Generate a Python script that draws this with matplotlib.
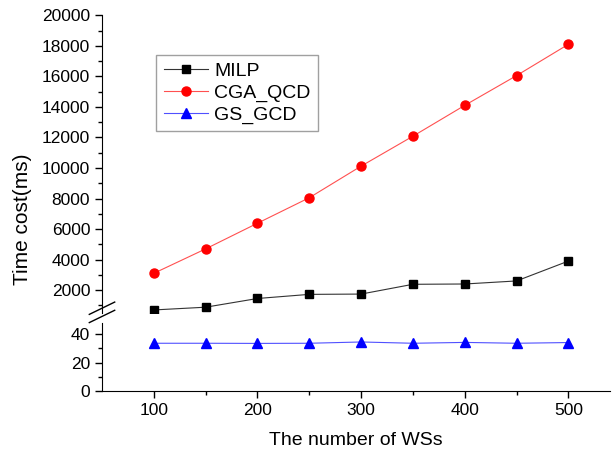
import numpy as np
import matplotlib.pyplot as plt

plt.rcParams["font.family"] = ["Liberation Sans", "DejaVu Sans"]

ws = [100, 150, 200, 250, 300, 350, 400, 450, 500]
milp = [700, 880, 1450, 1720, 1740, 2380, 2400, 2600, 3900]
cga_qcd = [3100, 4700, 6380, 8050, 10120, 12080, 14100, 16050, 18100]
gs_gcd = [33.5, 33.5, 33.4, 33.5, 34.4, 33.5, 34.1, 33.5, 34.0]

fig = plt.figure(figsize=(6.13, 4.57), dpi=100)
ax_top = fig.add_axes([0.1664, 0.3151, 0.8284, 0.6514])
ax_bot = fig.add_axes([0.1664, 0.1444, 0.8284, 0.1497])

for ax in (ax_top, ax_bot):
    ax.plot(ws, milp, color="#333333", lw=0.8, marker="s", ms=5.5,
            mfc="black", mec="black", label="MILP")
    ax.plot(ws, cga_qcd, color="#ff5050", lw=0.8, marker="o", ms=6.5,
            mfc="red", mec="red", label="CGA_QCD")
    ax.plot(ws, gs_gcd, color="#5050ff", lw=0.8, marker="^", ms=6.5,
            mfc="blue", mec="blue", label="GS_GCD")
    ax.set_xlim(50, 540)
    ax.spines["top"].set_visible(False)
    ax.spines["right"].set_visible(False)
    ax.tick_params(direction="out", labelsize=12.5, width=1, length=5)
    ax.tick_params(which="minor", direction="out", width=1, length=3)

ax_top.set_ylim(500, 20000)
ax_top.set_yticks(np.arange(2000, 20001, 2000))
ax_top.set_yticks(np.arange(1000, 20001, 1000), minor=True)
ax_top.spines["bottom"].set_visible(False)
ax_top.tick_params(axis="x", which="both", bottom=False, labelbottom=False)

ax_bot.set_ylim(0, 48)
ax_bot.set_yticks([0, 20, 40])
ax_bot.set_yticks([10, 30], minor=True)
ax_bot.set_xticks([100, 200, 300, 400, 500])
ax_bot.set_xticks([150, 250, 350, 450], minor=True)

# break marks on the left spine
for y in (0.0, 0.12):
    ax_bot.plot([-0.025, 0.025], [1.0 + y, 1.0 + y + 0.18],
                transform=ax_bot.transAxes, color="black", lw=1, clip_on=False)

ax_bot.set_xlabel("The number of WSs", fontsize=14, labelpad=10)
fig.text(0.037, 0.52, "Time cost(ms)", rotation=90, fontsize=15,
         ha="center", va="center")

leg = ax_top.legend(loc="upper left", bbox_to_anchor=(0.106, 0.867),
                    borderaxespad=0, fontsize=14, handlelength=2.3,
                    handletextpad=0.3, labelspacing=0.2, fancybox=False,
                    edgecolor="#888888", borderpad=0.4)
leg.get_frame().set_linewidth(1)

fig.savefig("out.png", dpi=100)
